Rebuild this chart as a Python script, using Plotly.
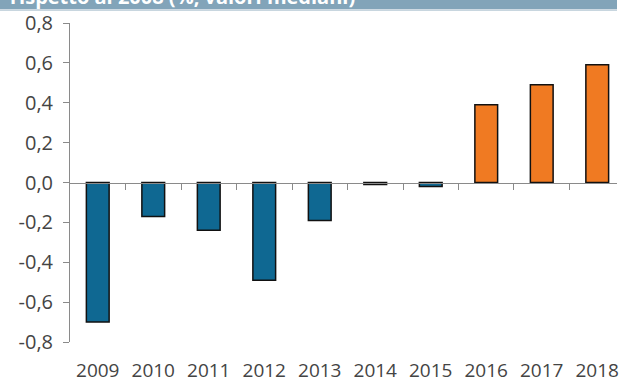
import plotly.graph_objects as go

# Annual values (%, median) relative to 2008
years = ["2009", "2010", "2011", "2012", "2013", "2014", "2015", "2016", "2017", "2018"]
values = [-0.70, -0.17, -0.24, -0.49, -0.19, -0.01, -0.02, 0.39, 0.49, 0.59]
y_tick_vals = [-0.8, -0.6, -0.4, -0.2, 0.0, 0.2, 0.4, 0.6, 0.8]
y_tick_text = ["-0,8", "-0,6", "-0,4", "-0,2", "0,0", "0,2", "0,4", "0,6", "0,8"]
header_text = "rispetto al 2008 (%, valori mediani)"

BLUE = "#0f6892"
ORANGE = "#f07a22"
FONT = "Open Sans"
TEXT_COLOR = "#444444"
AXIS_COLOR = "#8a8a8a"

x_pos = list(range(len(years)))
colors = [BLUE if int(y) <= 2015 else ORANGE for y in years]

fig = go.Figure()
fig.add_trace(go.Bar(
    x=x_pos, y=values,
    marker=dict(color=colors, line=dict(color="#111111", width=1.5)),
    width=0.41,
    hoverinfo="skip",
    showlegend=False,
))

x_range = [-0.5, 9.356]

fig.update_layout(
    width=619, height=383,
    margin=dict(l=70, r=0, t=23, b=40),
    paper_bgcolor="white", plot_bgcolor="white",
    font=dict(family=FONT, size=18, color=TEXT_COLOR),
    xaxis=dict(
        range=x_range,
        tickvals=x_pos, ticktext=years,
        showline=False, showgrid=False, zeroline=False,
        ticks="", ticklabelstandoff=15,
        ticklabeloverflow="allow",
        tickfont=dict(family=FONT, size=19, color=TEXT_COLOR),
    ),
    # axis drawn along the zero line, with ticks between the years
    xaxis2=dict(
        overlaying="x", anchor="free", position=0.5,
        range=x_range,
        tickvals=[i + 0.5 for i in x_pos[:-1]],
        showticklabels=False,
        showline=True, linecolor=AXIS_COLOR, linewidth=1,
        ticks="outside", ticklen=6, tickcolor=AXIS_COLOR, tickwidth=1,
        showgrid=False, zeroline=False,
    ),
    yaxis=dict(
        range=[-0.8, 0.8],
        tickvals=y_tick_vals, ticktext=y_tick_text,
        showline=True, linecolor=AXIS_COLOR, linewidth=1,
        ticks="outside", ticklen=6, tickcolor=AXIS_COLOR,
        showgrid=False, zeroline=False,
        tickfont=dict(family=FONT, size=20, color=TEXT_COLOR),
        ticklabelstandoff=6,
    ),
)

# an empty trace keeps the zero-line axis active
fig.add_trace(go.Scatter(x=[x_range[0]], y=[0], xaxis="x2", mode="markers",
                         marker=dict(opacity=0), hoverinfo="skip", showlegend=False))

# header band with the (partially visible) subtitle
fig.add_shape(type="rect", xref="paper", yref="paper",
              x0=-0.13, x1=1.0, y0=1.043, y1=1.08,
              fillcolor="#82a4b9", line=dict(width=0), layer="below")
fig.add_shape(type="rect", xref="paper", yref="paper",
              x0=-0.13, x1=1.0, y0=1.038, y1=1.043,
              fillcolor="#c8d6df", line=dict(width=0), layer="below")
fig.add_annotation(text="<b>" + header_text + "</b>", xref="paper", yref="paper",
                   x=-0.113, y=1.034, xanchor="left", yanchor="bottom",
                   showarrow=False,
                   font=dict(family=FONT, size=20, color="white"))

fig.write_html("out.html")
